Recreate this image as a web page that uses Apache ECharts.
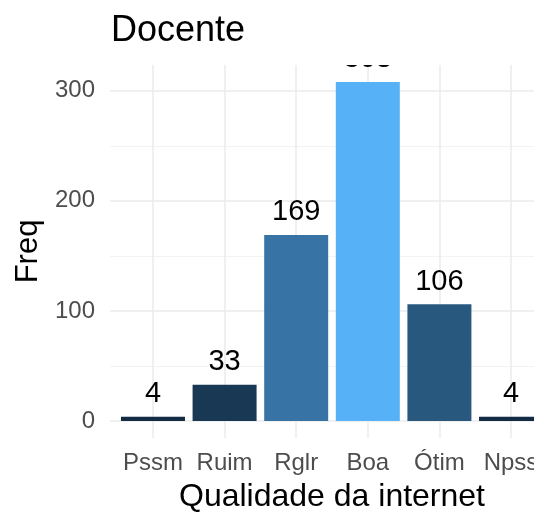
<!DOCTYPE html>
<html>
<head>
<meta charset="utf-8">
<script src="https://cdn.jsdelivr.net/npm/echarts@6/dist/echarts.min.js"></script>
<style>
  html, body { margin: 0; padding: 0; background: #fff; }
  #chart1 { width: 534px; height: 513px; }
</style>
</head>
<body>
<div id="chart1"></div>
<script>
// data
var categories = ['Pssm', 'Ruim', 'Rglr', 'Boa', 'Ótim', 'Npss'];
var freq = [4, 33, 169, 308, 106, 4];
var yTicks = [0, 100, 200, 300];
var yMinorTicks = [50, 150, 250];

var FONT = 'Liberation Sans';

var barData = [];
var xPos = [];
for (var i = 0; i < categories.length; i++) {
    barData.push([i + 1, freq[i]]);
    xPos.push(i + 1);
}

var myChart = echarts.init(document.getElementById('chart1'));

// ggplot-like expansion: 0.6 for discrete x, 5% for y
var yMax = Math.max.apply(null, freq);
var yPad = yMax * 0.05;

option = {
    backgroundColor: '#fff',
    animation: false,
    title: {
        text: 'Docente',
        left: 106,
        top: 8,
        z: 20,
        textStyle: { fontFamily: FONT, fontSize: 36, fontWeight: 'normal', color: '#000' }
    },
    graphic: [{
        // hides the part of the tallest label that ggplot clips at the panel edge
        type: 'rect',
        z: 10,
        silent: true,
        shape: { x: 100, y: 0, width: 434, height: 65 },
        style: { fill: '#fff' }
    }],
    grid: { left: 110, top: 65, width: 444, height: 373, outerBoundsMode: 'none' },
    visualMap: {
        show: false,
        type: 'continuous',
        dimension: 1,
        min: Math.min.apply(null, freq),
        max: yMax,
        inRange: { color: ['#132B43', '#56B1F7'] }
    },
    xAxis: {
        type: 'value',
        min: 0.4,
        max: categories.length + 0.6,
        name: 'Qualidade da internet',
        nameLocation: 'middle',
        nameGap: 43,
        nameTextStyle: { fontFamily: FONT, fontSize: 32, color: '#000' },
        axisLine: { show: false },
        axisTick: { show: false, customValues: xPos },
        axisLabel: {
            customValues: xPos,
            margin: 13,
            fontFamily: FONT,
            fontSize: 24,
            color: '#4d4d4d',
            formatter: function (v) { return categories[Math.round(v) - 1] || ''; }
        },
        splitLine: { show: true, lineStyle: { color: '#ebebeb', width: 1.5 } }
    },
    yAxis: [{
        type: 'value',
        min: -yPad,
        max: yMax + yPad,
        name: 'Freq',
        nameLocation: 'middle',
        nameGap: 66,
        nameTextStyle: { fontFamily: FONT, fontSize: 31, color: '#000' },
        axisLine: { show: false },
        axisTick: { show: false, customValues: yTicks },
        axisLabel: {
            customValues: yTicks,
            margin: 15,
            fontFamily: FONT,
            fontSize: 24,
            color: '#4d4d4d'
        },
        splitLine: { show: true, lineStyle: { color: '#ebebeb', width: 1.5 } }
    }, {
        type: 'value',
        min: -yPad,
        max: yMax + yPad,
        position: 'left',
        axisLine: { show: false },
        axisTick: { show: false, customValues: yMinorTicks },
        axisLabel: { show: false, customValues: yMinorTicks },
        splitLine: { show: true, lineStyle: { color: '#f3f3f3', width: 1 } }
    }],
    series: [{
        name: 'Freq',
        type: 'bar',
        yAxisIndex: 0,
        data: barData,
        barWidth: 64,
        z: 3,
        label: {
            show: true,
            position: 'top',
            distance: 8,
            fontFamily: FONT,
            fontSize: 29,
            color: '#000',
            formatter: function (p) { return p.value[1]; }
        }
    }]
};
myChart.setOption(option);
</script>
</body>
</html>
